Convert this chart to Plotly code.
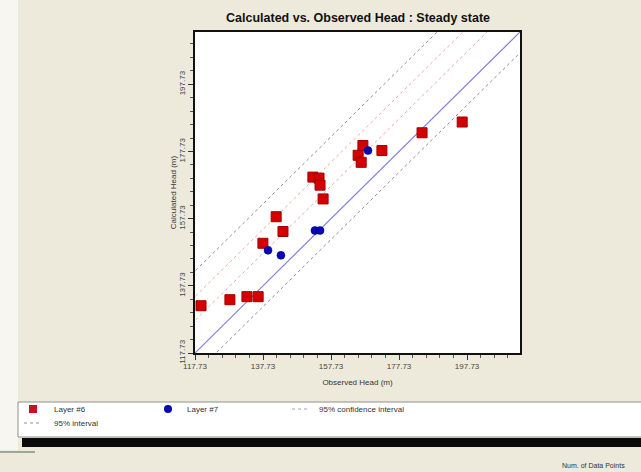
import plotly.graph_objects as go

# ---- data ----
layer6_obs = [119.5, 128.0, 133.0, 136.3, 137.7, 141.6, 143.6, 152.4, 154.2, 154.5, 155.4,
              167.1, 165.7, 166.6, 172.7, 184.5, 196.3]
layer6_calc = [131.8, 133.6, 134.5, 134.5, 150.4, 158.3, 153.9, 170.1, 169.8, 167.7, 163.6,
               179.5, 176.6, 174.5, 178.0, 183.3, 186.5]
layer7_obs = [139.2, 143.0, 153.0, 154.5, 168.6]
layer7_calc = [148.3, 146.8, 154.2, 154.2, 178.0]

axis_min, axis_max = 117.73, 213.3
tick_vals = [117.73, 137.73, 157.73, 177.73, 197.73]
tick_text = ["117.73", "137.73", "157.73", "177.73", "197.73"]
interval_offsets = [24.4, -6.2]      # 95% interval
confidence_offsets = [16.8, 9.7]     # 95% confidence interval

FONT = "Liberation Sans"
W, H = 641, 472
L, R, T, B = 195, 520, 32, 353


def px(x):
    return (x - L) / (R - L)


def py(y):
    return (B - y) / (B - T)


fig = go.Figure()

line_x = [axis_min - 40, axis_max + 40]
for off in interval_offsets:
    fig.add_trace(go.Scatter(x=line_x, y=[v + off for v in line_x], mode="lines",
                             line=dict(color="#8C8CA8", width=1, dash="3px,3px"),
                             showlegend=False, hoverinfo="skip"))
for off in confidence_offsets:
    fig.add_trace(go.Scatter(x=line_x, y=[v + off for v in line_x], mode="lines",
                             line=dict(color="#F0A8A8", width=1, dash="dot"),
                             showlegend=False, hoverinfo="skip"))
fig.add_trace(go.Scatter(x=line_x, y=line_x, mode="lines",
                         line=dict(color="#8080E0", width=1.2),
                         showlegend=False, hoverinfo="skip"))

fig.add_trace(go.Scatter(x=layer6_obs, y=layer6_calc, mode="markers", name="Layer #6",
                         marker=dict(symbol="square", size=10, color="#D40000",
                                     line=dict(color="#A00000", width=1)),
                         showlegend=False))
fig.add_trace(go.Scatter(x=layer7_obs, y=layer7_calc, mode="markers", name="Layer #7",
                         marker=dict(symbol="circle", size=8, color="#0A0AB0",
                                     line=dict(color="#000080", width=0.5)),
                         showlegend=False))

axis_common = dict(
    range=[axis_min, axis_max], tickvals=tick_vals, ticktext=tick_text,
    ticks="outside", ticklen=5, tickcolor="#333333", tickwidth=1,
    showline=True, linecolor="#111111", linewidth=1.5, mirror=True,
    showgrid=False, zeroline=False,
    tickfont=dict(family=FONT, size=8, color="#444444"),
    minor=dict(tick0=117.73, dtick=4, ticks="outside", ticklen=3, tickcolor="#555555"),
)

shapes = [
    dict(type="rect", xref="paper", yref="paper", x0=px(0), x1=px(18), y0=py(0), y1=py(450),
         fillcolor="#F7F6F0", line=dict(width=0), layer="below"),
    dict(type="rect", xref="paper", yref="paper", x0=px(18), x1=px(645), y0=py(402), y1=py(437),
         fillcolor="white", line=dict(color="#909090", width=1)),
    dict(type="rect", xref="paper", yref="paper", x0=px(22), x1=px(645), y0=py(438), y1=py(447),
         fillcolor="#0A0A0A", line=dict(width=0)),
    dict(type="line", xref="paper", yref="paper", x0=px(0), x1=px(35), y0=py(452), y1=py(452),
         line=dict(color="#9AAA98", width=2)),
    dict(type="line", xref="paper", yref="paper", x0=px(292), x1=px(310), y0=py(409), y1=py(409),
         line=dict(color="#A0A0B8", width=1, dash="dot")),
    dict(type="line", xref="paper", yref="paper", x0=px(24), x1=px(42), y0=py(423), y1=py(423),
         line=dict(color="#8C8CA8", width=1, dash="dot")),
    dict(type="rect", xref="paper", yref="paper", x0=px(29), x1=px(37), y0=py(405), y1=py(413),
         fillcolor="#C81020", line=dict(width=0)),
    dict(type="circle", xref="paper", yref="paper", x0=px(164), x1=px(172), y0=py(405), y1=py(413),
         fillcolor="#0A0AB0", line=dict(width=0)),
]

ann_font = dict(family=FONT, size=8, color="#333333")
annotations = [
    dict(text="<b>Calculated vs. Observed Head : Steady state</b>", xref="paper", yref="paper",
         x=px(358), y=py(18), showarrow=False, font=dict(family=FONT, size=12.5, color="#111111"),
         xanchor="center", yanchor="middle"),
    dict(text="Layer #6", xref="paper", yref="paper", x=px(52), y=py(409), showarrow=False,
         font=ann_font, xanchor="left", yanchor="middle"),
    dict(text="Layer #7", xref="paper", yref="paper", x=px(185), y=py(409), showarrow=False,
         font=ann_font, xanchor="left", yanchor="middle"),
    dict(text="95% confidence interval", xref="paper", yref="paper", x=px(317), y=py(409), showarrow=False,
         font=ann_font, xanchor="left", yanchor="middle"),
    dict(text="95% interval", xref="paper", yref="paper", x=px(52), y=py(423), showarrow=False,
         font=ann_font, xanchor="left", yanchor="middle"),
    dict(text="Num. of Data Points", xref="paper", yref="paper", x=px(627), y=py(465), showarrow=False,
         font=dict(family=FONT, size=7, color="#333333"), xanchor="right", yanchor="middle"),
]

fig.update_layout(
    width=W, height=H,
    margin=dict(l=L, r=W - R, t=T, b=H - B),
    paper_bgcolor="#EDEADC", plot_bgcolor="white",
    xaxis=dict(title=dict(text="Observed Head (m)", font=dict(family=FONT, size=8, color="#333333"),
                          standoff=9), **axis_common),
    yaxis=dict(title=dict(text="Calculated Head (m)", font=dict(family=FONT, size=8, color="#333333"),
                          standoff=0), tickangle=-90, **axis_common),
    shapes=shapes, annotations=annotations,
    showlegend=False,
)

fig.write_html("out.html", config={"displayModeBar": False},
               post_script="document.body.style.margin='0';document.body.style.background='#EDEADC';")
